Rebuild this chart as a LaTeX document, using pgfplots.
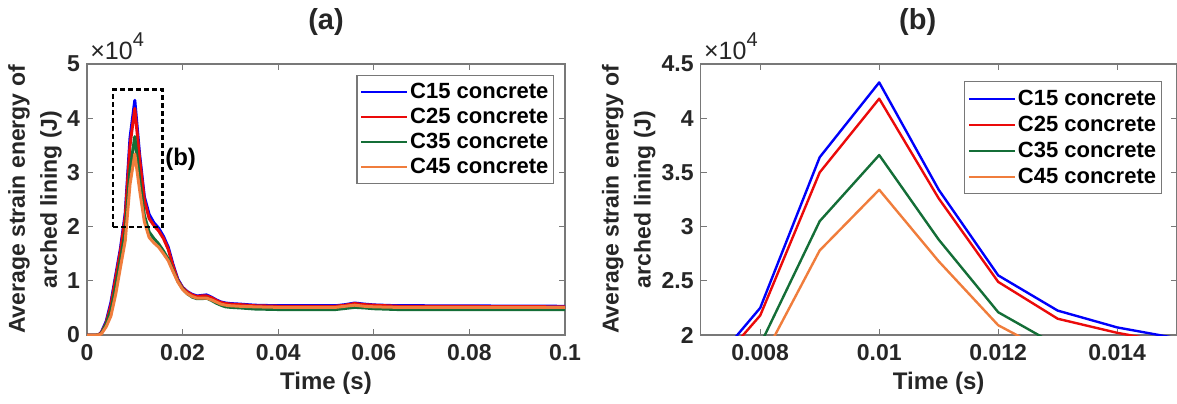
\documentclass[border=0pt]{standalone}
\usepackage{fontspec}
\setmainfont{Liberation Sans}
\usepackage{pgfplots}
\usepackage{pgfplotstable}
\pgfplotsset{compat=1.18}

\definecolor{cblue}{RGB}{0,0,250}
\definecolor{cred}{RGB}{235,10,10}
\definecolor{cgreen}{RGB}{20,110,55}
\definecolor{corange}{RGB}{240,125,60}
\definecolor{axgray}{RGB}{120,120,120}
\definecolor{txt}{RGB}{38,38,38}

% time (s), average strain energy (x 10^4 J)
\pgfplotstableread{
t      c15    c25    c35    c45
0      0      0      0      0
0.001  0      0      0      0
0.002  0      0      0      0
0.0025 0.01   0.01   0.005  0.003
0.003  0.05   0.04   0.03   0.02
0.004  0.25   0.22   0.20   0.15
0.005  0.60   0.55   0.45   0.35
0.006  1.10   1.05   0.90   0.75
0.007  1.60   1.55   1.40   1.25
0.008  2.25   2.18   1.91   1.74
0.009  3.64   3.50   3.05   2.78
0.010  4.33   4.18   3.66   3.34
0.011  3.34   3.26   2.88   2.68
0.012  2.55   2.49   2.21   2.09
0.013  2.225  2.15   1.90   1.80
0.014  2.07   2.02   1.78   1.70
0.015  1.97   1.92   1.68   1.62
0.016  1.82   1.78   1.55   1.50
0.017  1.62   1.58   1.40   1.37
0.018  1.30   1.27   1.19   1.17
0.019  1.03   1.01   0.99   0.98
0.020  0.88   0.87   0.85   0.84
0.021  0.80   0.79   0.76   0.76
0.022  0.75   0.74   0.70   0.71
0.023  0.72   0.71   0.67   0.68
0.024  0.73   0.72   0.67   0.68
0.025  0.74   0.72   0.68   0.68
0.026  0.70   0.69   0.64   0.65
0.027  0.65   0.64   0.59   0.61
0.028  0.61   0.60   0.55   0.57
0.029  0.59   0.58   0.52   0.55
0.030  0.58   0.57   0.51   0.54
0.032  0.57   0.56   0.50   0.53
0.035  0.55   0.54   0.48   0.52
0.040  0.54   0.53   0.47   0.51
0.050  0.54   0.53   0.47   0.51
0.052  0.54   0.53   0.47   0.51
0.054  0.56   0.55   0.49   0.53
0.056  0.59   0.58   0.51   0.55
0.058  0.57   0.56   0.50   0.53
0.060  0.555  0.55   0.485  0.52
0.065  0.54   0.53   0.47   0.51
0.070  0.54   0.53   0.47   0.51
0.100  0.53   0.52   0.47   0.51
}\energy

\pgfplotsset{
  myaxis/.style={
    scale only axis,
    height=135.5pt,
    scaled x ticks=false, scaled y ticks=false,
    axis line style={axgray, line width=0.6pt},
    every tick/.style={axgray, line width=0.6pt},
    major tick length=3pt,
    tick align=inside,
    xtick pos=both, ytick pos=both,
    ticklabel style={font=\bfseries\fontsize{11.5}{12}\selectfont, text=txt},
    xticklabel style={yshift=-1pt},
    xlabel style={font=\bfseries\fontsize{12}{14}\selectfont, text=txt},
    legend cell align=left,
    legend image code/.code={\draw[##1,line width=1.1pt] (0pt,0pt) -- (23pt,0pt);},
    legend style={draw=axgray, line width=0.6pt, fill=white,
      font=\bfseries\fontsize{11}{12}\selectfont, text=black,
      inner xsep=1.5pt, inner ysep=2pt,
      nodes={inner xsep=1pt, inner ysep=1.5pt, text height=8pt, text depth=1.5pt}},
  },
}
\tikzset{
  ylab/.style={rotate=90, align=center, anchor=center, text=txt,
    font=\bfseries\fontsize{11.5}{16}\selectfont},
  ttl/.style={anchor=center, text=txt, font=\bfseries\fontsize{14.5}{16}\selectfont},
  sci/.style={anchor=south west, text=txt, inner sep=0pt, font=\fontsize{12.5}{14}\selectfont},
}
\newcommand{\sciten}{×10\raisebox{0.5em}{\fontsize{10}{12}\selectfont 4}}

\begin{document}
\begin{tikzpicture}
\useasboundingbox (-43.5pt,-34pt) rectangle (545pt,167.5pt);
% ---------- (a) ----------
\begin{axis}[myaxis, name=A,
  at={(0pt,0pt)}, anchor=south west,
  width=239pt,
  xmin=0, xmax=0.1, ymin=0, ymax=5,
  xtick={0,0.02,0.04,0.06,0.08,0.1},
  xticklabels={0,0.02,0.04,0.06,0.08,0.1},
  ytick={0,1,2,3,4,5},
  yticklabels={0,1,2,3,4,5},
  xlabel={Time (s)},
  xlabel style={at={(rel axis cs:0.5,0)}, anchor=center, yshift=-24pt},
  legend style={at={(rel axis cs:1,1)}, anchor=north east, xshift=-5.5pt, yshift=-5.5pt},
]
\addplot[cblue, line width=1.5pt, line join=round] table[x=t, y=c15] {\energy};
\addlegendentry{C15 concrete}
\addplot[cred, line width=1.5pt, line join=round] table[x=t, y=c25] {\energy};
\addlegendentry{C25 concrete}
\addplot[cgreen, line width=1.5pt, line join=round] table[x=t, y=c35] {\energy};
\addlegendentry{C35 concrete}
\addplot[corange, line width=1.5pt, line join=round] table[x=t, y=c45] {\energy};
\addlegendentry{C45 concrete}
\draw[black, line width=1.1pt, dash pattern=on 2.5pt off 1.5pt]
  (axis cs:0.0055,2.0) rectangle (axis cs:0.0158,4.53);
\node[anchor=west, font=\bfseries\fontsize{12}{14}\selectfont, text=black, inner sep=0pt]
  at (axis cs:0.0163,3.25) {(b)};
\end{axis}
\node[ttl] at ([yshift=21pt]A.north) {(a)};
\node[sci] at ([xshift=1.5pt,yshift=2pt]A.north west) {\sciten};
\node[ylab] at ([xshift=-26pt]A.west) {Average strain energy of\\arched lining (J)};
% ---------- (b) ----------
\begin{axis}[myaxis, name=B,
  at={(306.85pt,0pt)}, anchor=south west,
  width=238pt,
  xmin=0.007, xmax=0.015, ymin=2, ymax=4.5,
  xtick={0.008,0.01,0.012,0.014},
  xticklabels={0.008,0.01,0.012,0.014},
  ytick={2,2.5,3,3.5,4,4.5},
  yticklabels={2,2.5,3,3.5,4,4.5},
  xlabel={Time (s)},
  xlabel style={at={(rel axis cs:0.5,0)}, anchor=center, yshift=-24pt},
  legend style={at={(rel axis cs:1,1)}, anchor=north east, xshift=-7.5pt, yshift=-8.5pt,
    nodes={text height=8.5pt, text depth=1.5pt, inner ysep=1.5pt}},
]
\addplot[cblue, line width=1.2pt, line join=round] table[x=t, y=c15] {\energy};
\addlegendentry{C15 concrete}
\addplot[cred, line width=1.2pt, line join=round] table[x=t, y=c25] {\energy};
\addlegendentry{C25 concrete}
\addplot[cgreen, line width=1.2pt, line join=round] table[x=t, y=c35] {\energy};
\addlegendentry{C35 concrete}
\addplot[corange, line width=1.2pt, line join=round] table[x=t, y=c45] {\energy};
\addlegendentry{C45 concrete}
\end{axis}
\node[ttl] at ([xshift=-10.5pt,yshift=21pt]B.north) {(b)};
\node[sci] at ([xshift=1.5pt,yshift=2pt]B.north west) {\sciten};
\node[ylab] at ([xshift=-36pt]B.west) {Average strain energy of\\arched lining (J)};
\end{tikzpicture}
\end{document}
